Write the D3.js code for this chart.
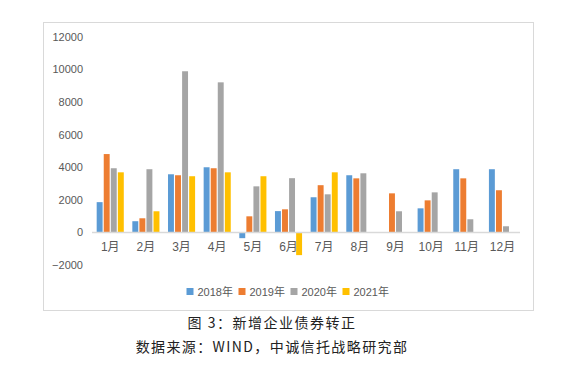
<!DOCTYPE html>
<html>
<head>
  <meta charset="utf-8">
  <script src="https://d3js.org/d3.v7.min.js"></script>
  <style>
    body { margin: 0; background: #fff; }
  </style>
</head>
<body>
<div id="vis"></div>
<script>
  // data
  var months = ['1月', '2月', '3月', '4月', '5月', '6月', '7月', '8月', '9月', '10月', '11月', '12月'];
  var seriesNames = ['2018年', '2019年', '2020年', '2021年'];
  var colors = ['#5b9bd5', '#ed7d31', '#a5a5a5', '#ffc000'];
  var v2018 = [1850, 680, 3560, 3990, -360, 1300, 2150, 3500, null, 1470, 3870, 3870];
  var v2019 = [4800, 860, 3500, 3930, 980, 1410, 2890, 3310, 2390, 1960, 3310, 2580];
  var v2020 = [3930, 3870, 9880, 9200, 2820, 3320, 2330, 3620, 1290, 2450, 800, 370];
  var v2021 = [3680, 1290, 3440, 3680, 3440, -1400, 3680, null, null, null, null, null];
  var yTicks = [-2000, 0, 2000, 4000, 6000, 8000, 10000, 12000];

  var allValues = [v2018, v2019, v2020, v2021];

  var width = 578, height = 367;
  var svg = d3.select('#vis')
    .append('svg')
    .attr('width', width)
    .attr('height', height);

  // chart frame
  svg.append('rect')
    .attr('x', 43.5).attr('y', 22.5)
    .attr('width', 490).attr('height', 288)
    .attr('fill', '#fff')
    .attr('stroke', '#d9d9d9')
    .attr('stroke-width', 1);

  var x0 = d3.scaleBand()
    .domain(months)
    .range([92.4, 520.3])
    .paddingInner(0.24)
    .paddingOuter(0.12);

  var x1 = d3.scaleBand()
    .domain(seriesNames)
    .range([0, x0.bandwidth()])
    .paddingInner(0.16);

  var y = d3.scaleLinear()
    .domain([-2000, 12000])
    .range([264.9, 36.7]);

  // y axis labels (no line)
  var yAxis = svg.append('g')
    .attr('transform', 'translate(92,0)')
    .call(d3.axisLeft(y).tickValues(yTicks).tickSize(0).tickPadding(9).tickFormat(d3.format('d')));
  yAxis.select('.domain').remove();
  yAxis.selectAll('text')
    .attr('fill', '#595959')
    .style('font-family', 'Liberation Sans, Arial, sans-serif')
    .style('font-size', '11px');

  // bars
  var rows = [];
  months.forEach(function (m, i) {
    seriesNames.forEach(function (s, j) {
      var v = allValues[j][i];
      if (v != null) rows.push({ month: m, series: s, value: v, color: colors[j] });
    });
  });

  svg.append('g')
    .selectAll('rect')
    .data(rows)
    .enter()
    .append('rect')
    .attr('x', d => x0(d.month) + x1(d.series))
    .attr('width', x1.bandwidth())
    .attr('y', d => y(Math.max(0, d.value)))
    .attr('height', d => Math.abs(y(d.value) - y(0)))
    .attr('fill', d => d.color);

  // zero line
  svg.append('line')
    .attr('x1', 92).attr('x2', 520)
    .attr('y1', Math.round(y(0)) + 0.5).attr('y2', Math.round(y(0)) + 0.5)
    .attr('stroke', '#d9d9d9')
    .attr('stroke-width', 1.3);

  // month labels
  svg.append('g')
    .selectAll('text')
    .data(months)
    .enter()
    .append('text')
    .attr('x', d => x0(d) + x0.bandwidth() / 2)
    .attr('y', 251)
    .attr('text-anchor', 'middle')
    .attr('fill', '#595959')
    .style('font-family', 'Liberation Sans, Noto Sans CJK SC, sans-serif')
    .style('font-size', '12px')
    .text(d => d);

  // legend
  var legend = svg.append('g')
    .selectAll('g')
    .data(seriesNames)
    .enter()
    .append('g')
    .attr('transform', (d, i) => 'translate(' + (186.5 + i * 52) + ',288)');
  legend.append('rect')
    .attr('width', 7).attr('height', 7)
    .attr('fill', (d, i) => colors[i]);
  legend.append('text')
    .attr('x', 11).attr('y', 7.5)
    .attr('fill', '#595959')
    .style('font-family', 'Liberation Sans, Noto Sans CJK SC, sans-serif')
    .style('font-size', '11px')
    .text(d => d);

  // captions under the chart
  svg.append('text')
    .attr('x', 272).attr('y', 328)
    .attr('text-anchor', 'middle')
    .attr('fill', '#222')
    .style('font-family', 'Noto Sans CJK SC, sans-serif')
    .style('font-size', '14px')
    .style('letter-spacing', '1.5px')
    .text('图 3：新增企业债券转正');
  svg.append('text')
    .attr('x', 272).attr('y', 352)
    .attr('text-anchor', 'middle')
    .attr('fill', '#222')
    .style('font-family', 'Noto Sans CJK SC, sans-serif')
    .style('font-size', '14px')
    .style('letter-spacing', '1.4px')
    .text('数据来源：WIND，中诚信托战略研究部');
</script>
</body>
</html>
